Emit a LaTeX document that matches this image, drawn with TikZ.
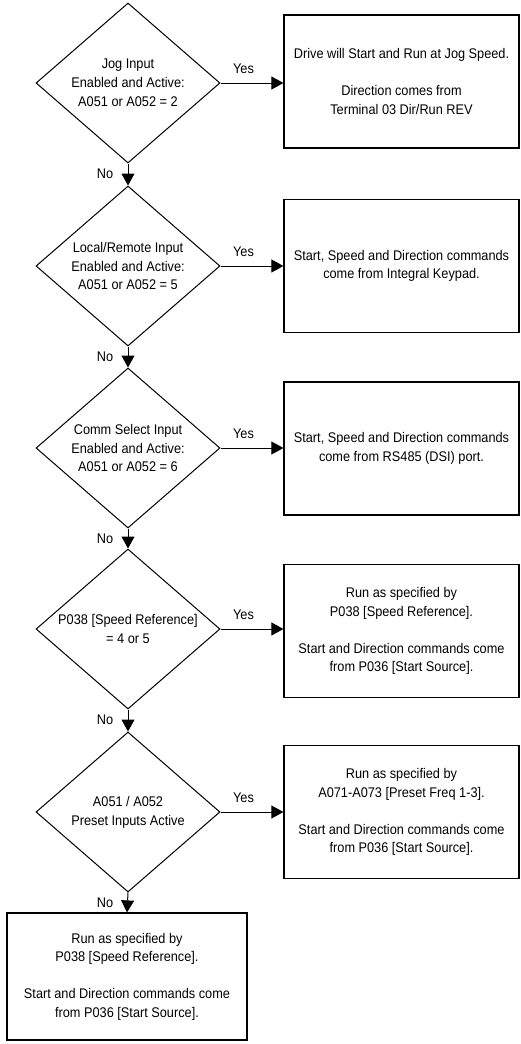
\documentclass[tikz,border=0pt]{standalone}
\usepackage{fontspec}
\setmainfont[FakeStretch=0.91]{Liberation Sans}
\usetikzlibrary{shapes.geometric,arrows.meta}
\begin{document}
\begin{tikzpicture}[x=1pt,y=-1pt,
  dec/.style={diamond, draw, line width=1pt, minimum width=184pt, minimum height=160pt, inner sep=0pt},
  dtxt/.style={font=\fontsize{14}{18.8}\selectfont, align=center, inner sep=0pt},
  box/.style={draw, line width=1.2pt, minimum width=235pt, minimum height=133pt, inner sep=0pt,
              font=\fontsize{14}{18.5}\selectfont, align=center},
  arr/.style={line width=1pt, -{Triangle[length=12pt,width=13pt]}},
  lab/.style={font=\fontsize{14}{15}\selectfont, inner sep=0pt}
]
\useasboundingbox (0,0) rectangle (520,1044);

% decisions
\node[dec, label={[dtxt]center:Jog Input\\Enabled and Active:\\A051 or A052 = 2}] (d1) at (128,83) {};
\node[dec, label={[dtxt]center:Local/Remote Input\\Enabled and Active:\\A051 or A052 = 5}] (d2) at (128,266) {};
\node[dec, label={[dtxt]center:Comm Select Input\\Enabled and Active:\\A051 or A052 = 6}] (d3) at (128,448) {};
\node[dec, label={[dtxt]center:P038 [Speed Reference]\\= 4 or 5}] (d4) at (128,629) {};
\node[dec, label={[dtxt]center:A051 / A052\\Preset Inputs Active}] (d5) at (128,812) {};

% result boxes
\node[box] (b1) at (401.5,81.5) {Drive will Start and Run at Jog Speed.\\[18.5pt]Direction comes from\\Terminal 03 Dir/Run REV};
\node[box] (b2) at (401.5,266) {Start, Speed and Direction commands\\come from Integral Keypad.};
\node[box] (b3) at (401.5,448.5) {Start, Speed and Direction commands\\come from RS485 (DSI) port.};
\node[box] (b4) at (401.5,631) {Run as specified by\\P038 [Speed Reference].\\[18.5pt]Start and Direction commands come\\from P036 [Start Source].};
\node[box] (b5) at (401.5,812) {Run as specified by\\A071-A073 [Preset Freq 1-3].\\[18.5pt]Start and Direction commands come\\from P036 [Start Source].};
\node[box, minimum width=240pt, minimum height=127pt] (fin) at (127,976.5) {Run as specified by\\P038 [Speed Reference].\\[18.5pt]Start and Direction commands come\\from P036 [Start Source].};

% yes arrows
\foreach \i in {1,...,5}{
  \draw[arr] (d\i.east) -- (d\i.east -| b\i.west);
  \node[lab] (y\i) at ([xshift=23pt,yshift=14pt]d\i.east) {Yes};
}
% no arrows
\draw[arr] (d1.south) -- (d2.north);
\draw[arr] (d2.south) -- (d3.north);
\draw[arr] (d3.south) -- (d4.north);
\draw[arr] (d4.south) -- (d5.north);
\draw[arr] (d5.south) -- (fin.north);
\foreach \i in {1,...,5}{
  \node[lab] (n\i) at ([xshift=-23pt,yshift=-10pt]d\i.south) {No};
}
\end{tikzpicture}
\end{document}
